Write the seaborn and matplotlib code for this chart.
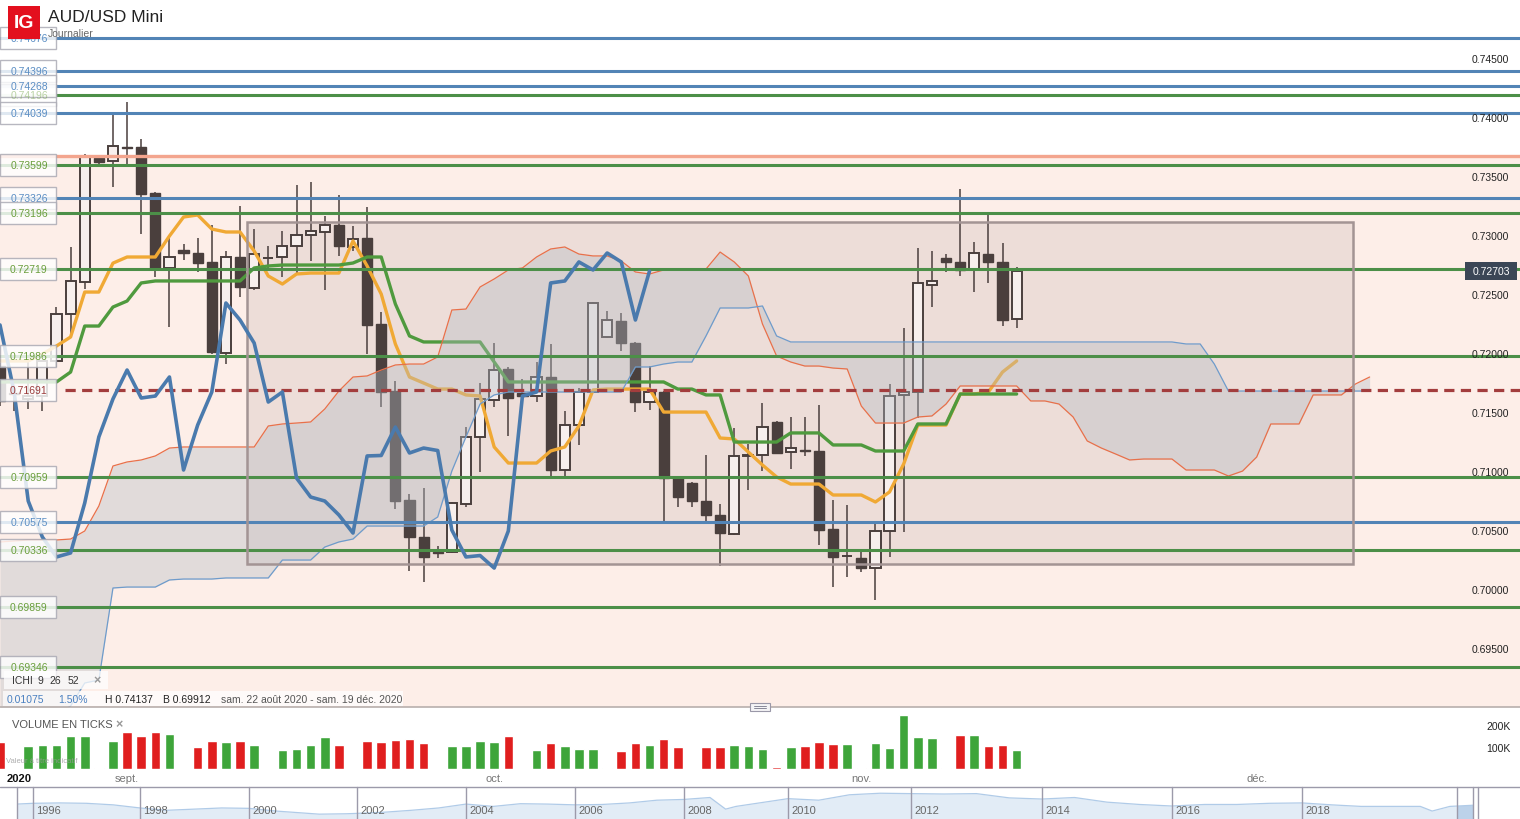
import numpy as np
import pandas as pd
import matplotlib
matplotlib.use("Agg")
import matplotlib.pyplot as plt
import matplotlib.transforms as mtransforms
from matplotlib.patches import Rectangle
from matplotlib.lines import Line2D
import seaborn as sns

# --- Données (AUD/USD Mini, journalier) ---
opens = [0.71898, 0.71670, 0.71619, 0.71644, 0.71941, 0.72339, 0.72610, 0.73661, 0.73636, 0.73754,
         0.73754, 0.73364, 0.72729, 0.72881, 0.72856, 0.72780, 0.72008, 0.72822, 0.72559, 0.72814,
         0.72822, 0.72915, 0.73008, 0.73034, 0.73093, 0.72907, 0.72983, 0.72254, 0.71686, 0.70763,
         0.70449, 0.70322, 0.70322, 0.70729, 0.71297, 0.71610, 0.71873, 0.71669, 0.71644, 0.71805,
         0.71017, 0.71398, 0.71678, 0.72144, 0.72280, 0.72093, 0.71593, 0.71678, 0.70949, 0.70907,
         0.70754, 0.70636, 0.70475, 0.71132, 0.71144, 0.71424, 0.71169, 0.71190, 0.71178, 0.70517,
         0.70284, 0.70271, 0.70186, 0.70500, 0.71653, 0.71678, 0.72585, 0.72814, 0.72780, 0.72712,
         0.72847, 0.72780, 0.72297]
highs = [0.71920, 0.71720, 0.71932, 0.71950, 0.72398, 0.72907, 0.73695, 0.73678, 0.74034, 0.74137,
         0.73822, 0.73373, 0.72992, 0.72932, 0.72983, 0.73093, 0.72873, 0.73254, 0.73059, 0.72915,
         0.73042, 0.73432, 0.73458, 0.73169, 0.73347, 0.73085, 0.73246, 0.72356, 0.71771, 0.70814,
         0.70864, 0.70373, 0.70746, 0.71381, 0.71754, 0.72093, 0.71890, 0.71788, 0.71932, 0.72085,
         0.71517, 0.71712, 0.72441, 0.72364, 0.72347, 0.72102, 0.71898, 0.71686, 0.70966, 0.70915,
         0.71144, 0.70729, 0.71373, 0.71237, 0.71585, 0.71432, 0.71466, 0.71466, 0.71568, 0.70763,
         0.70720, 0.70331, 0.70576, 0.71746, 0.72220, 0.72898, 0.72873, 0.72847, 0.73398, 0.72949,
         0.73186, 0.72941, 0.72737]
lows = [0.71560, 0.71520, 0.71534, 0.71517, 0.71890, 0.72169, 0.72551, 0.73585, 0.73415, 0.73593,
        0.73017, 0.72653, 0.72229, 0.72797, 0.72695, 0.72000, 0.71915, 0.72483, 0.72542, 0.72703,
        0.72653, 0.72686, 0.72788, 0.72542, 0.72831, 0.72873, 0.72000, 0.71551, 0.70686, 0.70161,
        0.70068, 0.70271, 0.70310, 0.70703, 0.71000, 0.71551, 0.71305, 0.71636, 0.71593, 0.70966,
        0.70966, 0.71229, 0.71678, 0.72136, 0.72025, 0.71508, 0.71525, 0.70559, 0.70703, 0.70703,
        0.70585, 0.70203, 0.70470, 0.70847, 0.71008, 0.71153, 0.71025, 0.71136, 0.70381, 0.70025,
        0.70110, 0.70153, 0.69912, 0.70280, 0.70492, 0.71458, 0.72398, 0.72695, 0.72661, 0.72525,
        0.72602, 0.72237, 0.72220]
closes = [0.71602, 0.71660, 0.71644, 0.71941, 0.72339, 0.72619, 0.73678, 0.73627, 0.73763, 0.73750,
          0.73356, 0.72729, 0.72822, 0.72856, 0.72771, 0.72017, 0.72822, 0.72568, 0.72847, 0.72814,
          0.72915, 0.73008, 0.73042, 0.73093, 0.72915, 0.72975, 0.72246, 0.71678, 0.70754, 0.70449,
          0.70280, 0.70314, 0.70737, 0.71297, 0.71619, 0.71864, 0.71627, 0.71644, 0.71805, 0.71017,
          0.71398, 0.71678, 0.72432, 0.72288, 0.72093, 0.71593, 0.71678, 0.70949, 0.70788, 0.70754,
          0.70636, 0.70483, 0.71136, 0.71140, 0.71381, 0.71161, 0.71203, 0.71182, 0.70508, 0.70280,
          0.70292, 0.70186, 0.70500, 0.71644, 0.71678, 0.72602, 0.72619, 0.72780, 0.72712, 0.72856,
          0.72780, 0.72288, 0.72703]
volumes_k = [124, 0, 103, 109, 109, 149, 148, 4, 129, 167,
             148, 167, 159, 0, 99, 126, 121, 126, 111, 0,
             85, 89, 109, 144, 108, 0, 126, 121, 132, 138,
             118, 0, 105, 105, 129, 124, 149, 0, 88, 118,
             103, 89, 89, 5, 82, 118, 109, 136, 98, 0,
             100, 98, 108, 105, 91, 9, 100, 105, 121, 115,
             114, 5, 117, 97, 245, 147, 141, 5, 155, 153,
             105, 109, 86]

# Ichimoku 9 26 52
tenkan = [0.71941, 0.71941, 0.71941, 0.72000, 0.72068, 0.72144, 0.72525, 0.72525, 0.72770, 0.72822,
          0.72822, 0.72822, 0.73000, 0.73161, 0.73178, 0.73059, 0.73034, 0.73034, 0.72873, 0.72661,
          0.72593, 0.72678, 0.72686, 0.72686, 0.72686, 0.72958, 0.72746, 0.72508, 0.72085, 0.71805,
          0.71754, 0.71703, 0.71703, 0.71653, 0.71644, 0.71212, 0.71076, 0.71076, 0.71076, 0.71178,
          0.71212, 0.71390, 0.71695, 0.71703, 0.71703, 0.71703, 0.71703, 0.71508, 0.71508, 0.71508,
          0.71508, 0.71288, 0.71280, 0.71169, 0.71059, 0.70958, 0.70898, 0.70898, 0.70898, 0.70805,
          0.70805, 0.70805, 0.70746, 0.70831, 0.71068, 0.71398, 0.71398, 0.71398, 0.71661, 0.71661,
          0.71678, 0.71847, 0.71941]
kijun = [0.71763, 0.71763, 0.71763, 0.71763, 0.71763, 0.71847, 0.72237, 0.72237, 0.72398, 0.72449,
         0.72602, 0.72619, 0.72619, 0.72619, 0.72619, 0.72619, 0.72619, 0.72619, 0.72729, 0.72746,
         0.72754, 0.72754, 0.72754, 0.72754, 0.72754, 0.72771, 0.72822, 0.72822, 0.72424, 0.72153,
         0.72102, 0.72102, 0.72102, 0.72102, 0.72102, 0.71932, 0.71763, 0.71763, 0.71763, 0.71763,
         0.71763, 0.71763, 0.71763, 0.71763, 0.71763, 0.71763, 0.71763, 0.71763, 0.71703, 0.71703,
         0.71653, 0.71653, 0.71254, 0.71254, 0.71254, 0.71254, 0.71331, 0.71331, 0.71331, 0.71229,
         0.71229, 0.71229, 0.71178, 0.71178, 0.71178, 0.71407, 0.71407, 0.71407, 0.71661, 0.71661,
         0.71661, 0.71661, 0.71661]
senkou_a = [0.70407, 0.70415, 0.70424, 0.70424, 0.70424, 0.70432, 0.70500, 0.70712, 0.71051, 0.71085,
            0.71102, 0.71136, 0.71203, 0.71212, 0.71212, 0.71212, 0.71212, 0.71212, 0.71212, 0.71390,
            0.71407, 0.71415, 0.71424, 0.71534, 0.71686, 0.71805, 0.71814, 0.71864, 0.71907, 0.71915,
            0.71915, 0.71975, 0.72373, 0.72381, 0.72568, 0.72636, 0.72712, 0.72729, 0.72822, 0.72890,
            0.72907, 0.72847, 0.72831, 0.72831, 0.72788, 0.72695, 0.72678, 0.72712, 0.72720, 0.72720,
            0.72720, 0.72864, 0.72780, 0.72661, 0.72254, 0.71983, 0.71932, 0.71898, 0.71898, 0.71881,
            0.71873, 0.71559, 0.71415, 0.71415, 0.71415, 0.71466, 0.71475, 0.71576, 0.71729, 0.71729,
            0.71729, 0.71729, 0.71729, 0.71602, 0.71602, 0.71576, 0.71466, 0.71263, 0.71203, 0.71153,
            0.71102, 0.71110, 0.71110, 0.71110, 0.71017, 0.71017, 0.71017, 0.70966, 0.71008, 0.71127,
            0.71407, 0.71407, 0.71407, 0.71653, 0.71653, 0.71653, 0.71746, 0.71805]
senkou_b = [0.68890, 0.68890, 0.68890, 0.68907, 0.68949, 0.69017, 0.69212, 0.69237, 0.70017, 0.70025,
            0.70025, 0.70025, 0.70085, 0.70093, 0.70093, 0.70093, 0.70102, 0.70102, 0.70102, 0.70102,
            0.70254, 0.70254, 0.70254, 0.70364, 0.70407, 0.70432, 0.70542, 0.70542, 0.70542, 0.70542,
            0.70542, 0.70619, 0.71008, 0.71297, 0.71576, 0.71653, 0.71678, 0.71678, 0.71678, 0.71678,
            0.71678, 0.71678, 0.71678, 0.71678, 0.71678, 0.71890, 0.71890, 0.71915, 0.71932, 0.71932,
            0.72153, 0.72390, 0.72390, 0.72390, 0.72407, 0.72153, 0.72102, 0.72102, 0.72102, 0.72102,
            0.72102, 0.72102, 0.72102, 0.72102, 0.72102, 0.72102, 0.72102, 0.72102, 0.72102, 0.72102,
            0.72102, 0.72102, 0.72102, 0.72102, 0.72102, 0.72102, 0.72102, 0.72102, 0.72102, 0.72102,
            0.72102, 0.72102, 0.72102, 0.72102, 0.72085, 0.72085, 0.71915, 0.71686, 0.71686, 0.71686,
            0.71686, 0.71686, 0.71686, 0.71686, 0.71686, 0.71686, 0.71686, 0.71686]

# Niveaux horizontaux tracés
blue_levels = [0.74676, 0.74396, 0.74268, 0.74039, 0.73326, 0.70575]
green_levels = [0.74196, 0.73599, 0.73196, 0.72719, 0.71986, 0.70959, 0.70336, 0.69859, 0.69346]
dashed_level = 0.71691
zone_top = 0.73678
last_price = 0.72703
right_ticks = [0.745, 0.740, 0.735, 0.730, 0.725, 0.720, 0.715, 0.710, 0.705, 0.700, 0.695]
month_labels = ["sept.", "oct.", "nov.", "déc."]
month_slots = [9.0, 35.0, 61.0, 89.0]

# Navigateur (historique long terme)
nav_years = [1995.7, 1996.0, 1996.5, 1997.0, 1997.5, 1998.0, 1998.5, 1999.0, 1999.5, 2000.0,
             2000.5, 2001.0, 2001.3, 2001.8, 2002.0, 2002.5, 2003.0, 2003.5, 2004.0, 2004.5,
             2005.0, 2005.5, 2006.0, 2006.5, 2007.0, 2007.5, 2008.0, 2008.5, 2008.8, 2009.0,
             2009.5, 2010.0, 2010.5, 2011.0, 2011.5, 2012.0, 2012.5, 2013.0, 2013.5, 2014.0,
             2014.5, 2015.0, 2015.5, 2016.0, 2016.5, 2017.0, 2017.5, 2018.0, 2018.5, 2019.0,
             2019.5, 2020.0, 2020.2, 2020.5, 2020.97]
nav_rates = [0.76, 0.78, 0.79, 0.78, 0.74, 0.66, 0.60, 0.63, 0.66, 0.65,
             0.58, 0.53, 0.50, 0.51, 0.52, 0.55, 0.60, 0.66, 0.76, 0.70,
             0.77, 0.76, 0.74, 0.75, 0.79, 0.86, 0.88, 0.93, 0.63, 0.70,
             0.80, 0.90, 0.86, 1.00, 1.04, 1.03, 1.02, 1.03, 0.92, 0.89,
             0.93, 0.81, 0.75, 0.71, 0.75, 0.75, 0.78, 0.79, 0.74, 0.70,
             0.70, 0.70, 0.58, 0.70, 0.73]
nav_tick_years = [1996, 1998, 2000, 2002, 2004, 2006, 2008, 2010, 2012, 2014, 2016, 2018]

# --- Mise en page (pixels) ---
W, H = 1520, 820
SLOT = 14.12                      # largeur d'une bougie en px
PX_PER_UNIT = 11800.0             # px par unité de prix
P_REF, Y_REF = 0.745, 60          # 0.74500 à y=60 px


def price_at(ypx):
    return P_REF - (ypx - Y_REF) / PX_PER_UNIT


def fx(x):
    return x / W


def fy(y):
    return 1 - y / H


DARK = "#4a3f3d"
LIGHT = "#f7efed"
BLUE = "#5284b6"
GREEN = "#4c8f48"
PINK = "#fdeee8"

sns.set_theme(style="white")
plt.rcParams["font.family"] = ["Liberation Sans", "DejaVu Sans"]

fig = plt.figure(figsize=(W / 100, H / 100), dpi=100)
fig.patch.set_facecolor("white")

# ---------------- panneau des prix ----------------
ax = fig.add_axes([0, fy(708), 1, 708 / H])
ax.axis("off")
ymin, ymax = price_at(708), price_at(0)

o = np.array(opens)
hi = np.array(highs)
lo = np.array(lows)
c = np.array(closes)
slots = np.arange(len(o))
up = c >= o

ax.axhspan(ymin, zone_top, color=PINK, zorder=0.5, lw=0)

# rectangle dessiné
bx0, bx1 = 247 / SLOT, 1353 / SLOT
by0, by1 = price_at(565), price_at(223)
ax.add_patch(Rectangle((bx0, by0), bx1 - bx0, by1 - by0, fc="#b09a9a", alpha=0.2, lw=0, zorder=1))
ax.add_patch(Rectangle((bx0, by0), bx1 - bx0, by1 - by0, fill=False, ec="#a39494", lw=1.8, zorder=3.2))

# bougies
ax.vlines(slots, lo, hi, color=DARK, lw=1.1, zorder=2)
body_lo = np.minimum(o, c)
body_h = np.maximum(np.abs(c - o), 0.00003)
ax.bar(slots[up], body_h[up], bottom=body_lo[up], width=0.72, color=LIGHT,
       edgecolor=DARK, linewidth=1.4, zorder=2.2)
ax.bar(slots[~up], body_h[~up], bottom=body_lo[~up], width=0.72, color=DARK,
       edgecolor=DARK, linewidth=1.0, zorder=2.2)

# Ichimoku
sns.lineplot(x=slots, y=tenkan, color="#f0a935", lw=2.4, ax=ax, zorder=2.6)
sns.lineplot(x=slots, y=kijun, color="#4f9a3e", lw=2.4, ax=ax, zorder=2.6)
cloud_x = np.arange(len(senkou_a))
ax.fill_between(cloud_x, senkou_a, senkou_b, color="#b4bcc4", alpha=0.38, lw=0, zorder=2.8)
sns.lineplot(x=cloud_x, y=senkou_a, color="#e8704a", lw=0.9, ax=ax, zorder=2.9)
sns.lineplot(x=cloud_x, y=senkou_b, color="#6e9bcb", lw=0.9, ax=ax, zorder=2.9)

# niveaux horizontaux
for p in blue_levels:
    ax.axhline(p, color=BLUE, lw=2.2, zorder=3)
for p in green_levels:
    ax.axhline(p, color=GREEN, lw=2.2, zorder=3)
ax.axhline(zone_top, color="#f3a58e", lw=2.4, zorder=3)
ax.axhline(dashed_level, xmin=65 / W, color="#a33d3d", lw=2.3, ls=(0, (3.2, 2.0)), zorder=3.1)

# Chikou (clôtures décalées de 26)
sns.lineplot(x=slots[26:] - 26, y=c[26:], color="#4a7aad", lw=2.6, ax=ax, zorder=4)

ax.set_xlim(0, W / SLOT)
ax.set_ylim(ymin, ymax)
ax.axis("off")

blend = mtransforms.blended_transform_factory(ax.transAxes, ax.transData)

# étiquettes de gauche
labels = [(p, "#5b8ec4") for p in blue_levels] + \
         [(p, "#6a9e3c") for p in green_levels] + \
         [(dashed_level, "#9a3a3a")]
labels.sort(key=lambda t: (t[0] != 0.74196, -t[0]))
half = 11 / PX_PER_UNIT
for i, (p, tc) in enumerate(labels):
    z = 6 + i * 0.01
    faded = p == 0.74196
    ax.add_patch(Rectangle((0, p - half), 56 / W, 2 * half, transform=blend, fc="white",
                           ec="#a8a8b2", lw=1.0, alpha=0.82, zorder=z, clip_on=False))
    ax.text(29 / W, p, f"{p:.5f}", transform=blend, ha="center", va="center",
            fontsize=7.5, color=tc, alpha=0.45 if faded else 1.0,
            zorder=7 if faded else z + 0.005)

# échelle de droite
for p in right_ticks:
    ax.text(1472 / W, p, f"{p:.5f}", transform=blend, ha="left", va="center",
            fontsize=7.5, color="#222222", zorder=7)
ax.add_patch(Rectangle((1465 / W, last_price - 9 / PX_PER_UNIT), 52 / W, 18 / PX_PER_UNIT,
                       transform=blend, fc="#3b4656", ec="none", zorder=8))
ax.text(1491 / W, last_price, f"{last_price:.5f}", transform=blend, ha="center", va="center",
        fontsize=7.5, color="white", zorder=9)

# ---------------- en-tête ----------------
fig.add_artist(Rectangle((fx(8), fy(40)), 32 / W, 33 / H, transform=fig.transFigure,
                         fc="#e3101e", ec="none", zorder=10))
fig.text(fx(24), fy(23), "IG", color="white", fontsize=14, fontweight="bold",
         ha="center", va="center", zorder=11)
fig.text(fx(48), fy(17), "AUD/USD Mini", fontsize=12.5, color="#222222", va="center", zorder=11)
fig.text(fx(48), fy(34), "Journalier", fontsize=7.5, color="#666666", va="center", zorder=11)

# légende Ichimoku + infos
fig.add_artist(Rectangle((fx(4), fy(690)), 104 / W, 18 / H, transform=fig.transFigure,
                         fc="white", ec="none", alpha=0.75, zorder=10))
fig.add_artist(Rectangle((fx(3), fy(707)), 400 / W, 15 / H, transform=fig.transFigure,
                         fc="white", ec="none", alpha=0.75, zorder=10))
for x, s in [(12, "ICHI"), (37, "9"), (49, "26"), (68, "52")]:
    fig.text(fx(x), fy(681), s, fontsize=7.5, color="#333333", va="center", zorder=11)
fig.text(fx(93), fy(681), "×", fontsize=9, color="#999999", va="center", fontweight="bold", zorder=11)
fig.text(fx(7), fy(700), "0.01075", fontsize=7.5, color="#4a80c0", va="center", zorder=11)
fig.text(fx(58), fy(700), "1.50%", fontsize=7.5, color="#4a80c0", va="center", zorder=11)
fig.text(fx(105), fy(700), "H 0.74137", fontsize=7.5, color="#222222", va="center", zorder=11)
fig.text(fx(163), fy(700), "B 0.69912", fontsize=7.5, color="#222222", va="center", zorder=11)
fig.text(fx(221), fy(700), "sam. 22 août 2020 - sam. 19 déc. 2020", fontsize=7.5,
         color="#555555", va="center", zorder=11)

# séparateur
fig.add_artist(Line2D([0, 1], [fy(708), fy(708)], transform=fig.transFigure, color="#b8afad", lw=1.2))
fig.add_artist(Rectangle((fx(750), fy(712)), 20 / W, 8 / H, transform=fig.transFigure,
                         fc="#f4f4f6", ec="#9a98a8", lw=0.8, zorder=10))
for yy in (707, 709):
    fig.add_artist(Line2D([fx(754), fx(766)], [fy(yy), fy(yy)], transform=fig.transFigure,
                          color="#888899", lw=0.7, zorder=11))

# ---------------- volume ----------------
axv = fig.add_axes([0, fy(770), 1, 58 / H])
df_vol = pd.DataFrame({"slot": slots, "vol": volumes_k,
                       "sens": np.where(up, "hausse", "baisse")})
sns.barplot(data=df_vol, x="slot", y="vol", hue="sens", native_scale=True, dodge=False,
            palette={"hausse": "#3ea53a", "baisse": "#e01e1e"}, width=0.68, saturation=1,
            errorbar=None, legend=False, ax=axv)
axv.set_xlim(0, W / SLOT)
axv.set_ylim(0, 58 / 22 * 100)
axv.axis("off")

fig.text(fx(12), fy(725), "VOLUME EN TICKS", fontsize=8, color="#555555", va="center")
fig.text(fx(115), fy(725), "×", fontsize=9, color="#999999", va="center", fontweight="bold")
fig.text(fx(6), fy(762), "Valeur à titre indicatif", fontsize=5.5, color="#999999", va="center", alpha=0.8)
fig.text(fx(1486), fy(727), "200K", fontsize=7.5, color="#222222", va="center")
fig.text(fx(1486), fy(749), "100K", fontsize=7.5, color="#222222", va="center")

# dates
fig.text(fx(7), fy(779), "2020", fontsize=8, color="#111111", fontweight="bold", va="center")
for lab, s in zip(month_labels, month_slots):
    fig.text(fx(s * SLOT), fy(779), lab, fontsize=8, color="#777777", ha="center", va="center")

# ---------------- navigateur ----------------
fig.add_artist(Line2D([0, 1], [fy(788), fy(788)], transform=fig.transFigure, color="#9c9aaa", lw=1))
axn = fig.add_axes([fx(17), 0, (1478 - 17) / W, 31 / H])
anchor_years = [1995.7] + nav_tick_years + [2020.62, 2020.97]
anchor_px = [17, 33, 140, 249, 357, 466, 575, 684, 788, 911, 1042, 1172, 1302, 1457, 1473]
nav_px = np.interp(nav_years, anchor_years, anchor_px)
axn.fill_between(nav_px, nav_rates, 0.3, color="#e2ecf6", lw=0)
sns.lineplot(x=nav_px, y=nav_rates, color="#b0cbe8", lw=0.9, ax=axn)
axn.fill_between([1457, 1473], [0.72, 0.73], 0.3, color="#bcd2ea", lw=0)
axn.set_xlim(17, 1478)
axn.set_ylim(0.375, 1.175)
axn.axis("off")
for yr, px in zip(nav_tick_years, anchor_px[1:-2]):
    fig.add_artist(Line2D([fx(px), fx(px)], [fy(788), 0], transform=fig.transFigure, color="#9c9aaa", lw=1))
    fig.text(fx(px + 3), fy(811), str(yr), fontsize=8, color="#666666", va="center")
for px in (17, 1457, 1473, 1478):
    fig.add_artist(Line2D([fx(px), fx(px)], [fy(788), 0], transform=fig.transFigure, color="#9c9aaa", lw=1))

fig.savefig("out.png", dpi=100)
